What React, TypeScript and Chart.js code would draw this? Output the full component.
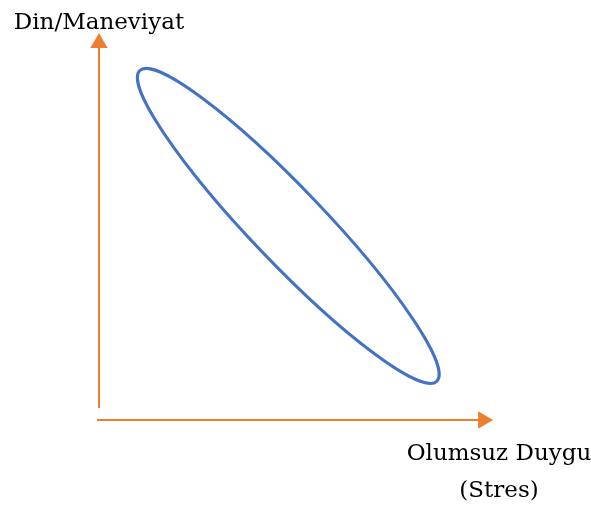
import React, { useEffect, useRef } from "react";
import { Chart, registerables } from "chart.js";

Chart.register(...registerables);

// Axis titles
const yAxisTitle = "Din/Maneviyat";
const xAxisTitleLines = ["Olumsuz Duygu", "(Stres)"];

// Axis arrows (data units, scale 0..10)
const yAxisLine = [
  { x: 0.05, y: 0.31 },
  { x: 0.05, y: 9.74 },
];
const xAxisLine = [
  { x: 0, y: 0 },
  { x: 9.75, y: 0 },
];

// Ellipse: the two ends of its long axis and its half-width (data units)
const ellipseTips = [
  { x: 1.08, y: 9.03 },
  { x: 8.58, y: 1.0 },
];
const ellipseHalfWidth = 0.93;

const ORANGE = "#ED7D31";
const BLUE = "#4472C4";
const FONT = "23px 'DejaVu Serif', serif";

const overlayPlugin = {
  id: "overlay",
  afterDatasetsDraw(chart: any) {
    const { ctx, scales } = chart;
    const xs = scales.x;
    const ys = scales.y;
    // ellipse
    const p1x = xs.getPixelForValue(ellipseTips[0].x);
    const p1y = ys.getPixelForValue(ellipseTips[0].y);
    const p2x = xs.getPixelForValue(ellipseTips[1].x);
    const p2y = ys.getPixelForValue(ellipseTips[1].y);
    const cx = (p1x + p2x) / 2;
    const cy = (p1y + p2y) / 2;
    const a = Math.hypot(p2x - p1x, p2y - p1y) / 2;
    const b = xs.getPixelForValue(ellipseHalfWidth) - xs.getPixelForValue(0);
    const ang = Math.atan2(p2y - p1y, p2x - p1x);
    ctx.save();
    ctx.beginPath();
    ctx.ellipse(cx, cy, a, b, ang, 0, Math.PI * 2);
    ctx.strokeStyle = BLUE;
    ctx.lineWidth = 3;
    ctx.stroke();
    ctx.restore();

    // texts
    ctx.save();
    ctx.fillStyle = "#000";
    ctx.font = FONT;
    ctx.textAlign = "center";
    ctx.textBaseline = "alphabetic";
    const yAxisX = xs.getPixelForValue(yAxisLine[0].x);
    ctx.fillText(yAxisTitle, yAxisX, 29);
    const rightX = chart.chartArea.right + 6;
    ctx.fillText(xAxisTitleLines[0], rightX, 460);
    ctx.fillText(xAxisTitleLines[1], rightX, 497);
    ctx.restore();
  },
};

export default function App() {
  const ref = useRef<HTMLCanvasElement | null>(null);
  useEffect(() => {
    if (!ref.current) return;
    const chart = new Chart(ref.current, {
      type: "scatter",
      data: {
        datasets: [
          {
            data: yAxisLine,
            showLine: true,
            borderColor: ORANGE,
            borderWidth: 2,
            pointRadius: [0, 10],
            pointStyle: "triangle",
            pointBackgroundColor: ORANGE,
            pointBorderColor: ORANGE,
            pointBorderWidth: 0,
            pointRotation: 0,
            clip: false,
          },
          {
            data: xAxisLine,
            showLine: true,
            borderColor: ORANGE,
            borderWidth: 2,
            pointRadius: [0, 10],
            pointStyle: "triangle",
            pointBackgroundColor: ORANGE,
            pointBorderColor: ORANGE,
            pointBorderWidth: 0,
            pointRotation: 90,
            clip: false,
          },
        ],
      } as any,
      options: {
        animation: false,
        responsive: false,
        events: [],
        layout: { padding: { left: 97, right: 98, top: 33, bottom: 88 } },
        scales: {
          x: { type: "linear", min: 0, max: 10, display: false },
          y: { type: "linear", min: 0, max: 10, display: false },
        },
        plugins: { legend: { display: false }, tooltip: { enabled: false } },
      },
      plugins: [overlayPlugin],
    });
    return () => chart.destroy();
  }, []);
  return (
    <div style={{ position: "absolute", left: 0, top: 0, width: 591, height: 508, background: "#fff" }}>
      <canvas ref={ref} width={591} height={508} />
    </div>
  );
}
